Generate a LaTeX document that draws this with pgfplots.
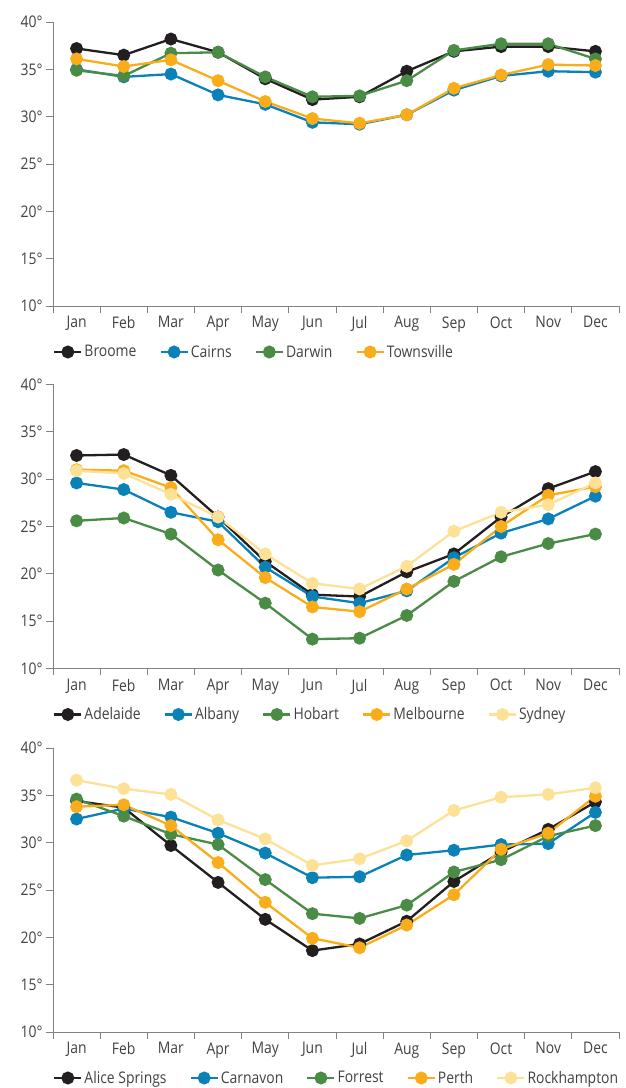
\documentclass[border=0pt]{standalone}
\usepackage{fontspec}
\setmainfont{Open Sans}[FakeStretch=0.87]
\usepackage{pgfplots}
\pgfplotsset{compat=1.18}

\definecolor{cBlack}{HTML}{231F20}
\definecolor{cBlue}{HTML}{0A82B8}
\definecolor{cGreen}{HTML}{4A8B45}
\definecolor{cOrange}{HTML}{FAAD1B}
\definecolor{cPale}{HTML}{FDE196}
\definecolor{txt}{HTML}{414042}
\definecolor{axln}{HTML}{808285}

\pgfplotsset{
  tempchart/.style={
    scale only axis, width=566pt, height=284pt,
    anchor=south west,
    xmin=0.5, xmax=12.5, ymin=10, ymax=40,
    axis x line=bottom, axis y line=left,
    axis line style={-, draw=axln, line width=0.9pt},
    xtick={0.5,1.5,...,12.5},
    x tick label as interval,
    xticklabels={Jan,Feb,Mar,Apr,May,Jun,Jul,Aug,Sep,Oct,Nov,Dec},
    ytick={10,15,...,40},
    yticklabels={10°,15°,20°,25°,30°,35°,40°},
    tick align=outside,
    major tick length=7pt,
    tick style={draw=axln, line width=0.9pt},
    ticklabel style={font=\fontsize{16}{18}\selectfont, text=txt},
    every axis plot/.append style={line width=2.3pt, mark=*, mark size=5.3pt, mark options={solid}},
    legend columns=-1,
    legend cell align=left,
    legend style={at={(axis description cs:0,0)}, anchor=west, yshift=-46pt,
      draw=none, fill=none, inner sep=0pt,
      font=\fontsize{16}{18}\selectfont, text=txt,
      /tikz/every even column/.append style={column sep=21pt}},
    legend image code/.code={\draw[mark repeat=2,mark phase=2,#1]
      plot coordinates {(0pt,0pt) (13.5pt,0pt) (27pt,0pt)};},
  }
}

\begin{document}
\begin{tikzpicture}
\useasboundingbox (0,0) rectangle (626pt,1088pt);

% Panel 1: tropical north
\begin{axis}[tempchart, at={(53pt,782pt)}]
\addplot[color=cBlack] coordinates {(1,37.2) (2,36.5) (3,38.2) (4,36.8) (5,34.0) (6,31.8) (7,32.1) (8,34.8) (9,36.9) (10,37.4) (11,37.4) (12,36.9)};
\addlegendentry{Broome}
\addplot[color=cBlue] coordinates {(1,35.0) (2,34.2) (3,34.5) (4,32.3) (5,31.3) (6,29.4) (7,29.2) (8,30.2) (9,32.8) (10,34.3) (11,34.8) (12,34.7)};
\addlegendentry{Cairns}
\addplot[color=cGreen] coordinates {(1,34.9) (2,34.3) (3,36.7) (4,36.8) (5,34.2) (6,32.1) (7,32.2) (8,33.8) (9,37.0) (10,37.7) (11,37.7) (12,36.1)};
\addlegendentry{Darwin}
\addplot[color=cOrange] coordinates {(1,36.1) (2,35.3) (3,36.0) (4,33.8) (5,31.6) (6,29.8) (7,29.3) (8,30.2) (9,33.0) (10,34.4) (11,35.5) (12,35.4)};
\addlegendentry{Townsville}
\end{axis}

% Panel 2: southern cities
\begin{axis}[tempchart, at={(53pt,419.5pt)}]
\addplot[color=cBlack] coordinates {(1,32.5) (2,32.6) (3,30.4) (4,26.0) (5,21.3) (6,17.8) (7,17.6) (8,20.2) (9,22.1) (10,26.0) (11,29.0) (12,30.8)};
\addlegendentry{Adelaide}
\addplot[color=cBlue] coordinates {(1,29.6) (2,28.9) (3,26.5) (4,25.5) (5,20.7) (6,17.6) (7,16.9) (8,18.2) (9,21.7) (10,24.3) (11,25.8) (12,28.2)};
\addlegendentry{Albany}
\addplot[color=cGreen] coordinates {(1,25.6) (2,25.9) (3,24.2) (4,20.4) (5,16.9) (6,13.1) (7,13.2) (8,15.6) (9,19.2) (10,21.8) (11,23.2) (12,24.2)};
\addlegendentry{Hobart}
\addplot[color=cOrange] coordinates {(1,31.0) (2,30.9) (3,29.1) (4,23.6) (5,19.6) (6,16.5) (7,16.0) (8,18.4) (9,21.0) (10,25.0) (11,28.3) (12,29.2)};
\addlegendentry{Melbourne}
\addplot[color=cPale] coordinates {(1,30.9) (2,30.6) (3,28.4) (4,26.0) (5,22.1) (6,19.0) (7,18.4) (8,20.8) (9,24.5) (10,26.5) (11,27.3) (12,29.6)};
\addlegendentry{Sydney}
\end{axis}

% Panel 3: inland and west
\begin{axis}[tempchart, at={(53pt,56pt)}]
\addplot[color=cBlack] coordinates {(1,34.4) (2,33.7) (3,29.7) (4,25.8) (5,21.9) (6,18.6) (7,19.3) (8,21.7) (9,25.9) (10,29.0) (11,31.4) (12,34.3)};
\addlegendentry{Alice Springs}
\addplot[color=cBlue] coordinates {(1,32.5) (2,33.6) (3,32.7) (4,31.0) (5,28.9) (6,26.3) (7,26.4) (8,28.7) (9,29.2) (10,29.8) (11,29.9) (12,33.2)};
\addlegendentry{Carnavon}
\addplot[color=cGreen] coordinates {(1,34.6) (2,32.8) (3,30.9) (4,29.8) (5,26.1) (6,22.5) (7,22.0) (8,23.4) (9,26.9) (10,28.2) (11,30.7) (12,31.8)};
\addlegendentry{Forrest}
\addplot[color=cOrange] coordinates {(1,33.8) (2,34.0) (3,31.8) (4,27.9) (5,23.7) (6,19.9) (7,18.9) (8,21.3) (9,24.5) (10,29.3) (11,31.0) (12,34.9)};
\addlegendentry{Perth}
\addplot[color=cPale] coordinates {(1,36.6) (2,35.7) (3,35.1) (4,32.4) (5,30.4) (6,27.6) (7,28.3) (8,30.2) (9,33.4) (10,34.8) (11,35.1) (12,35.8)};
\addlegendentry{Rockhampton}
\end{axis}
\end{tikzpicture}
\end{document}
